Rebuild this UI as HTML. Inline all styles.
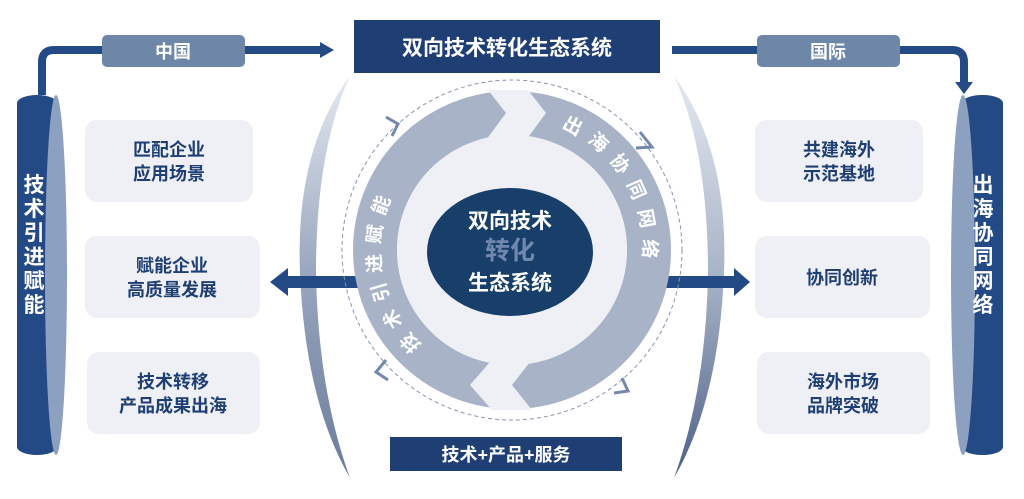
<!DOCTYPE html>
<html><head><meta charset="utf-8"><style>
html,body{margin:0;padding:0;background:#fff;width:1024px;height:499px;overflow:hidden}
svg text{font-family:"Liberation Sans","Noto Sans CJK SC",sans-serif;font-weight:bold}
</style></head><body>
<svg width="1024" height="499" viewBox="0 0 1024 499" xmlns="http://www.w3.org/2000/svg">
<defs>
<linearGradient id="arcL" x1="0" y1="0" x2="0" y2="1">
<stop offset="0" stop-color="#e4e8f0"/><stop offset="0.5" stop-color="#98a5bd"/><stop offset="1" stop-color="#6a7c9c"/></linearGradient>
<linearGradient id="arcR" x1="0" y1="0" x2="0" y2="1">
<stop offset="0" stop-color="#e4e8f0"/><stop offset="0.5" stop-color="#a8b3c7"/><stop offset="1" stop-color="#4d6186"/></linearGradient>
</defs>
<path d="M42 95 V62 Q42 50 54 50 H322" fill="none" stroke="#244a86" stroke-width="8"/>
<polygon points="320,42 334,50 320,58" fill="#244a86"/>
<path d="M672 50 H952 Q964 50 964 62 V84" fill="none" stroke="#244a86" stroke-width="8"/>
<polygon points="955,82 973,82 964,94" fill="#244a86"/>
<rect x="102" y="35" width="143" height="32" rx="5" fill="#6e86a8"/>
<text x="173" y="58" font-size="18" fill="#fff" text-anchor="middle">中国</text>
<rect x="757" y="35" width="143" height="32" rx="5" fill="#6e86a8"/>
<text x="828" y="58" font-size="18" fill="#fff" text-anchor="middle">国际</text>
<rect x="354" y="20" width="306" height="53" fill="#1f3f74"/>
<text x="507" y="55" font-size="21" fill="#fff" text-anchor="middle">双向技术转化生态系统</text>
<rect x="17" y="95" width="40" height="360" rx="20" ry="8" fill="#244a86"/>
<ellipse cx="56" cy="275" rx="11" ry="180" fill="#8ca0bf"/>
<text font-size="21" fill="#fff" text-anchor="middle">
<tspan x="34" y="192">技</tspan><tspan x="34" y="216">术</tspan><tspan x="34" y="240">引</tspan><tspan x="34" y="264">进</tspan><tspan x="34" y="288">赋</tspan><tspan x="34" y="312">能</tspan></text>
<rect x="962" y="95" width="41" height="360" rx="20" ry="8" fill="#244a86"/>
<ellipse cx="963" cy="275" rx="12" ry="180" fill="#8ca0bf"/>
<text font-size="21" fill="#fff" text-anchor="middle">
<tspan x="983" y="192">出</tspan><tspan x="983" y="216">海</tspan><tspan x="983" y="240">协</tspan><tspan x="983" y="264">同</tspan><tspan x="983" y="288">网</tspan><tspan x="983" y="312">络</tspan></text>
<g fill="#eef0f5">
<rect x="85" y="120" width="168" height="82" rx="12"/><rect x="85" y="236" width="175" height="82" rx="12"/><rect x="87" y="352" width="173" height="82" rx="12"/>
<rect x="755" y="120" width="168" height="82" rx="12"/><rect x="755" y="236" width="175" height="82" rx="12"/><rect x="757" y="352" width="173" height="82" rx="12"/>
</g>
<g font-size="18" fill="#1f3f74" text-anchor="middle">
<text x="169" y="156">匹配企业</text><text x="169" y="180">应用场景</text>
<text x="172" y="272">赋能企业</text><text x="172" y="296">高质量发展</text>
<text x="173" y="388">技术转移</text><text x="173" y="412">产品成果出海</text>
<text x="839" y="156">共建海外</text><text x="839" y="180">示范基地</text>
<text x="842" y="284">协同创新</text>
<text x="843" y="388">海外市场</text><text x="843" y="412">品牌突破</text>
</g>
<path d="M350 76 Q295 150 300 272 Q305 400 350 478 Q318 390 316 272 Q316 150 350 76Z" fill="url(#arcL)"/>
<path d="M674 76 Q729 150 724 272 Q719 400 674 478 Q706 390 708 272 Q708 150 674 76Z" fill="url(#arcR)"/>
<rect x="284" y="276" width="80" height="12" fill="#244a86"/>
<polygon points="270,282 288,268 288,296" fill="#244a86"/>
<rect x="650" y="276" width="86" height="12" fill="#244a86"/>
<polygon points="750,282 734,268 734,296" fill="#244a86"/>
<circle cx="512" cy="250" r="170" fill="none" stroke="#8894ac" stroke-width="1" stroke-dasharray="4 3"/>
<circle cx="512" cy="250" r="137" fill="none" stroke="#a9b3c8" stroke-width="44"/>
<circle cx="512" cy="250" r="115" fill="#eef0f5"/>
<polygon points="488,90 528,90 546,113 526,140 486,140 506,113" fill="#eef0f5"/>
<polygon points="530,362 490,362 470,385 492,410 532,410 512,385" fill="#eef0f5"/>
<path d="M386 117 L398 124 L392 136" fill="none" stroke="#7488aa" stroke-width="3"/>
<path d="M640 132 L652 147 L636 148" fill="none" stroke="#7488aa" stroke-width="3"/>
<path d="M386 360 L376 372 L388 380" fill="none" stroke="#7488aa" stroke-width="3"/>
<path d="M622 378 L628 391 L614 393" fill="none" stroke="#7488aa" stroke-width="3"/>
<path id="tl" d="M422 345 A130 130 0 0 1 392 196" fill="none"/>
<path id="tr" d="M561 128 A130 130 0 0 1 642 266" fill="none"/>
<text font-size="19" fill="#fff" letter-spacing="9"><textPath href="#tl">技术引进赋能</textPath></text>
<text font-size="19" fill="#fff" letter-spacing="10"><textPath href="#tr">出海协同网络</textPath></text>
<ellipse cx="510" cy="252" rx="83" ry="64" fill="#183f6a"/>
<text x="510" y="228" font-size="21" fill="#fff" text-anchor="middle">双向技术</text>
<text x="510" y="259" font-size="25" fill="#7088ad" text-anchor="middle">转化</text>
<text x="510" y="290" font-size="21" fill="#fff" text-anchor="middle">生态系统</text>
<rect x="390" y="437" width="232" height="34" fill="#1f3f74"/>
<text x="506" y="461" font-size="18" fill="#fff" text-anchor="middle">技术+产品+服务</text>
</svg>
</body></html>
